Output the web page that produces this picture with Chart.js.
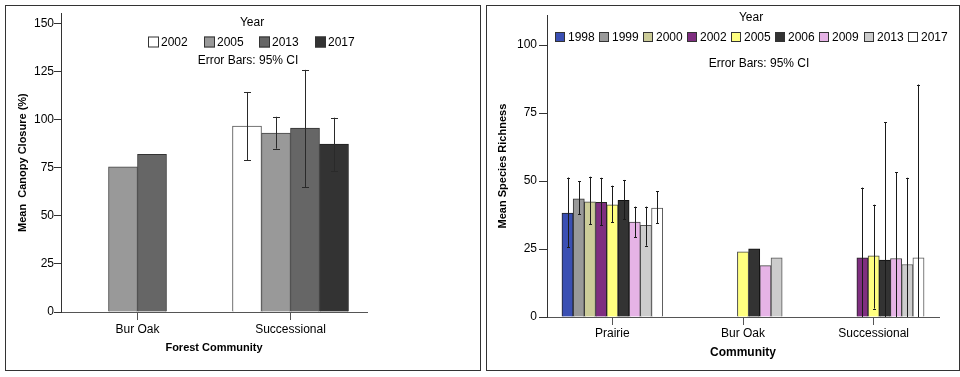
<!DOCTYPE html>
<html>
<head>
<meta charset="utf-8">
<script src="https://cdn.jsdelivr.net/npm/chart.js@4/dist/chart.umd.min.js"></script>
<style>
  html, body { margin: 0; padding: 0; background: #fff; width: 960px; height: 377px; overflow: hidden; }
  .panel { position: absolute; box-sizing: border-box; border: 1px solid #333; background: #fff; }
  #p1 { left: 5px; top: 5px; width: 476px; height: 366px; }
  #p2 { left: 486px; top: 5px; width: 474px; height: 366px; }
  canvas { display: block; }
</style>
</head>
<body>
<div class="panel" id="p1"><canvas id="c1" width="474" height="364"></canvas></div>
<div class="panel" id="p2"><canvas id="c2" width="472" height="364"></canvas></div>
<script>
// ---------- Left panel data ----------
const leftCategories = ['Bur Oak', 'Successional'];
const leftYears = ['2002', '2005', '2013', '2017'];
const canopy2002 = [null, 96.7];
const canopy2005 = [75.6, 93.1];
const canopy2013 = [82.1, 95.7];
const canopy2017 = [null, 87.4];
const canopyLow2002 = [null, 79.0];
const canopyHigh2002 = [null, 114.5];
const canopyLow2005 = [null, 85.0];
const canopyHigh2005 = [null, 101.6];
const canopyLow2013 = [null, 65.0];
const canopyHigh2013 = [null, 126.0];
const canopyLow2017 = [null, 73.4];
const canopyHigh2017 = [null, 101.1];
const leftTicks = [0, 25, 50, 75, 100, 125, 150];

// ---------- Right panel data ----------
const rightCategories = ['Prairie', 'Bur Oak', 'Successional'];
const rightYears = ['1998', '1999', '2000', '2002', '2005', '2006', '2009', '2013', '2017'];
const rich1998 = [38.2, null, null];
const rich1999 = [43.5, null, null];
const rich2000 = [42.4, null, null];
const rich2002 = [42.2, null, 21.8];
const rich2005 = [41.3, 24.0, 22.5];
const rich2006 = [42.9, 25.1, 20.9];
const rich2009 = [34.9, 18.9, 21.5];
const rich2013 = [33.7, 21.8, 19.3];
const rich2017 = [40.1, null, 21.8];
const richLow1998 = [25.6, null, null];
const richHigh1998 = [51.3, null, null];
const richLow1999 = [37.7, null, null];
const richHigh1999 = [50.0, null, null];
const richLow2000 = [34.1, null, null];
const richHigh2000 = [51.6, null, null];
const richLow2002 = [33.7, null, -4.0];
const richHigh2002 = [51.2, null, 47.6];
const richLow2005 = [34.8, null, 3.1];
const richHigh2005 = [48.3, null, 41.3];
const richLow2006 = [35.9, null, -29.9];
const richHigh2006 = [50.4, null, 71.7];
const richLow2009 = [29.4, null, -10.3];
const richHigh2009 = [40.6, null, 53.3];
const richLow2013 = [26.2, null, -12.6];
const richHigh2013 = [40.6, null, 51.2];
const richLow2017 = [34.5, null, -41.9];
const richHigh2017 = [46.3, null, 85.5];
const rightTicks = [0, 25, 50, 75, 100];

// ---------- Styles ----------
const FONT = '"Liberation Sans", Arial, Helvetica, sans-serif';
const leftColors = ['#ffffff', '#999999', '#666666', '#333333'];
const leftBorders = ['#555555', '#444444', '#333333', '#222222'];
const rightColors = ['#3a4fb3', '#999999', '#cccc99', '#7f2e80', '#ffff80', '#333333', '#e6b3e6', '#cccccc', '#ffffff'];
const rightBorders = ['#222222', '#333333', '#444444', '#222222', '#444444', '#111111', '#444444', '#555555', '#555555'];

Chart.defaults.font.family = FONT;
Chart.defaults.color = '#000';
Chart.defaults.animation = false;

// Error bars + in-plot legend drawn via plugin using the chart's own scales/elements
const annotPlugin = {
  id: 'panelAnnot',
  afterDatasetsDraw(chart, args, opts) {
    const ctx = chart.ctx;
    const yScale = chart.scales.y;
    const area = chart.chartArea;
    ctx.save();
    ctx.beginPath();
    ctx.rect(area.left, area.top - 1, area.right - area.left, area.bottom - area.top + 1);
    ctx.clip();
    ctx.strokeStyle = opts.errColor;
    ctx.lineWidth = 1;
    chart.data.datasets.forEach((ds, di) => {
      const meta = chart.getDatasetMeta(di);
      (ds.errLow || []).forEach((lo, i) => {
        const hi = ds.errHigh[i];
        if (lo == null || hi == null || ds.data[i] == null) return;
        const bar = meta.data[i];
        const x = Math.round(bar.x) + 0.5;
        const yl = yScale.getPixelForValue(lo);
        const yh = yScale.getPixelForValue(hi);
        const hw = opts.capWidth / 2;
        ctx.beginPath();
        ctx.moveTo(x, yl); ctx.lineTo(x, yh);
        ctx.moveTo(x - hw, Math.round(yh) + 0.5); ctx.lineTo(x + hw, Math.round(yh) + 0.5);
        ctx.moveTo(x - hw, Math.round(yl) + 0.5); ctx.lineTo(x + hw, Math.round(yl) + 0.5);
        ctx.stroke();
      });
    });
    ctx.restore();

    // legend
    ctx.save();
    ctx.fillStyle = '#000';
    ctx.font = '12px ' + FONT;
    ctx.textAlign = 'center';
    ctx.textBaseline = 'middle';
    ctx.fillText('Year', opts.titleX, opts.titleY);
    ctx.fillText('Error Bars: 95% CI', opts.noteX, opts.noteY);
    ctx.textAlign = 'left';
    chart.data.datasets.forEach((ds, di) => {
      const bx = opts.boxXs[di];
      const s = opts.boxSize;
      const by = opts.itemY - s / 2;
      ctx.fillStyle = ds.backgroundColor;
      ctx.fillRect(bx, by, s, s);
      ctx.strokeStyle = '#333';
      ctx.lineWidth = 1;
      ctx.strokeRect(bx + 0.5, by + 0.5, s - 1, s - 1);
      ctx.fillStyle = '#000';
      ctx.fillText(ds.label, bx + s + opts.textGap, opts.itemY + 0.5);
    });
    ctx.restore();
  }
};

function axisCommon(color, tl) {
  return {
    grid: { drawOnChartArea: false, drawTicks: true, tickLength: tl, color: color, offset: false },
    border: { display: true, color: color, width: 1 }
  };
}

// ---------- Left chart ----------
const leftLows = [canopyLow2002, canopyLow2005, canopyLow2013, canopyLow2017];
const leftHighs = [canopyHigh2002, canopyHigh2005, canopyHigh2013, canopyHigh2017];
const leftValues = [canopy2002, canopy2005, canopy2013, canopy2017];
new Chart(document.getElementById('c1'), {
  type: 'bar',
  data: {
    labels: leftCategories,
    datasets: leftYears.map((yr, i) => ({
      label: yr,
      data: leftValues[i],
      errLow: leftLows[i],
      errHigh: leftHighs[i],
      backgroundColor: leftColors[i],
      borderColor: leftBorders[i],
      borderWidth: 1,
      barThickness: 29
    }))
  },
  options: {
    responsive: false,
    layout: { padding: { left: 0, top: 4, right: 113, bottom: 0 } },
    plugins: {
      legend: { display: false },
      tooltip: { enabled: false },
      panelAnnot: {
        errColor: '#2a2a2a', capWidth: 7,
        titleX: 246, titleY: 17, noteX: 242, noteY: 55,
        boxXs: [142, 198, 253, 309], boxSize: 11, itemY: 36, textGap: 2
      }
    },
    scales: {
      x: Object.assign(axisCommon('#555', 8), {
        ticks: { font: { size: 12 }, padding: 2, color: '#000' },
        title: { display: true, text: 'Forest Community', font: { size: 11, weight: 'bold' }, color: '#000', padding: { top: 0, bottom: 15 } },
        afterFit: s => { s.height = 58; }
      }),
      y: Object.assign(axisCommon('#333', 7), {
        min: 0, max: 155.5,
        afterBuildTicks: s => { s.ticks = leftTicks.map(v => ({ value: v })); },
        ticks: { font: { size: 12 }, padding: 0, color: '#000', includeBounds: false },
        title: { display: true, text: 'Mean  Canopy Closure (%)', font: { size: 11, weight: 'bold' }, color: '#000', padding: { top: 10.4, bottom: 0 } },
        afterFit: s => { s.width = 55; }
      })
    }
  },
  plugins: [annotPlugin]
});

// ---------- Right chart ----------
const rightValues = [rich1998, rich1999, rich2000, rich2002, rich2005, rich2006, rich2009, rich2013, rich2017];
const rightLows = [richLow1998, richLow1999, richLow2000, richLow2002, richLow2005, richLow2006, richLow2009, richLow2013, richLow2017];
const rightHighs = [richHigh1998, richHigh1999, richHigh2000, richHigh2002, richHigh2005, richHigh2006, richHigh2009, richHigh2013, richHigh2017];
new Chart(document.getElementById('c2'), {
  type: 'bar',
  data: {
    labels: rightCategories,
    datasets: rightYears.map((yr, i) => ({
      label: yr,
      data: rightValues[i],
      errLow: rightLows[i],
      errHigh: rightHighs[i],
      backgroundColor: rightColors[i],
      borderColor: rightBorders[i],
      borderWidth: 1,
      barThickness: 11.2
    }))
  },
  options: {
    responsive: false,
    layout: { padding: { left: 0, top: 4, right: 20, bottom: 0 } },
    plugins: {
      legend: { display: false },
      tooltip: { enabled: false },
      panelAnnot: {
        errColor: '#1a1a1a', capWidth: 3,
        titleX: 264, titleY: 12, noteX: 272, noteY: 58,
        boxXs: [68, 112, 156, 200, 244, 288, 332, 377, 421], boxSize: 10, itemY: 31, textGap: 3
      }
    },
    scales: {
      x: Object.assign(axisCommon('#555', 8), {
        ticks: { font: { size: 12 }, padding: 1, color: '#000' },
        title: { display: true, text: 'Community', font: { size: 12, weight: 'bold' }, color: '#000', padding: { top: 0, bottom: 10 } },
        afterFit: s => { s.height = 53; }
      }),
      y: Object.assign(axisCommon('#333', 8), {
        min: 0, max: 111,
        afterBuildTicks: s => { s.ticks = rightTicks.map(v => ({ value: v })); },
        ticks: { font: { size: 12 }, padding: 2, color: '#000', includeBounds: false },
        title: { display: true, text: 'Mean Species Richness', font: { size: 11, weight: 'bold' }, color: '#000', padding: { top: 9.4, bottom: 0 } },
        afterFit: s => { s.width = 60; }
      })
    }
  },
  plugins: [annotPlugin]
});
</script>
</body>
</html>
